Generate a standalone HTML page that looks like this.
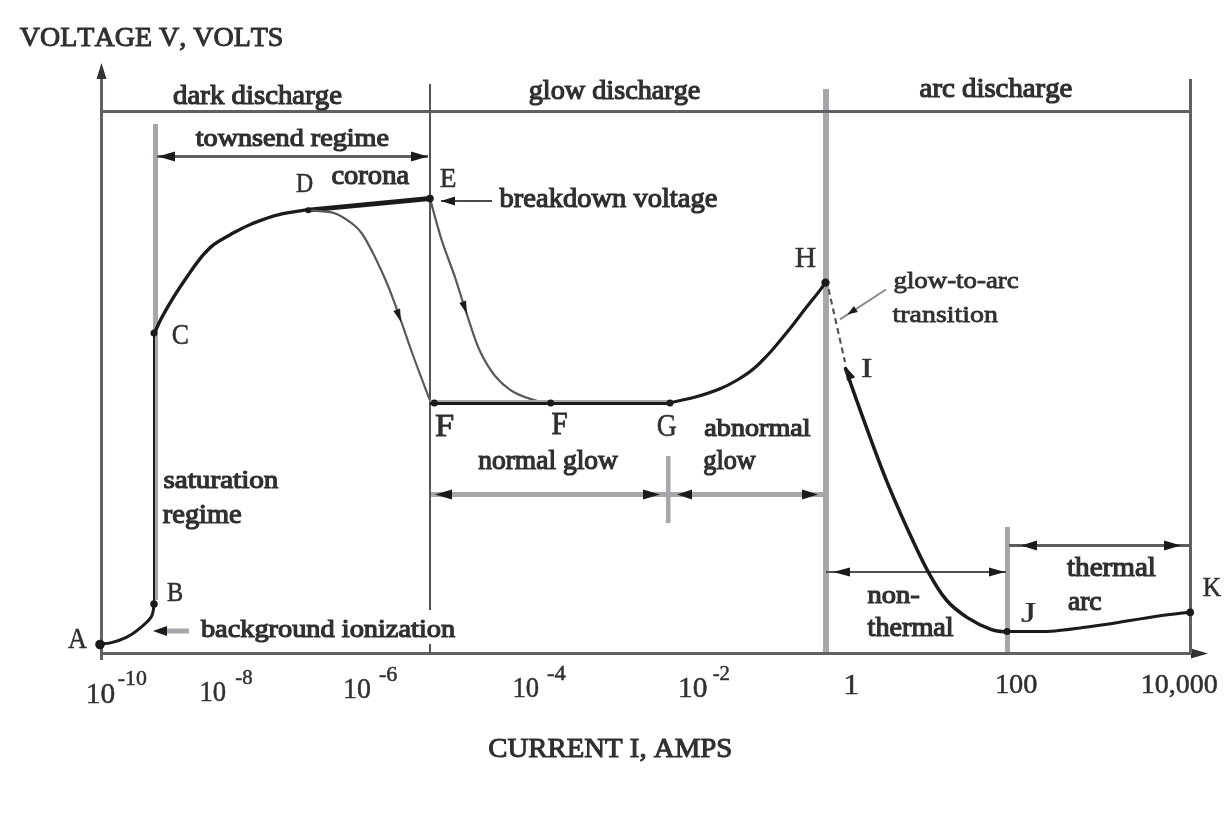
<!DOCTYPE html>
<html><head><meta charset="utf-8"><style>
html,body{margin:0;padding:0;background:#fff;}
svg{display:block;will-change:transform;}
text{font-family:"Liberation Serif",serif;font-kerning:none;font-variant-ligatures:none;}
</style></head><body>
<svg width="1226" height="815" viewBox="0 0 1226 815">
<rect width="1226" height="815" fill="#fff"/>
<rect x="153" y="124" width="5" height="476" fill="#a5a7aa"/>
<rect x="823" y="89" width="6" height="565" fill="#a5a7aa"/>
<rect x="1005" y="527" width="5" height="127" fill="#a5a7aa"/>
<rect x="666" y="456" width="4.5" height="67" fill="#a5a7aa"/>
<rect x="430" y="492" width="396" height="5" fill="#a5a7aa"/>
<rect x="167" y="628.5" width="22" height="5" fill="#a5a7aa"/>
<rect x="100" y="70" width="3" height="590" fill="#5f6165"/>
<rect x="100" y="652" width="1096" height="3" fill="#5f6165"/>
<polygon points="101.5,63.0 106.5,79.0 96.5,79.0" fill="#333"/>
<polygon points="1208.0,653.5 1191.0,658.5 1191.0,648.5" fill="#333"/>
<rect x="100" y="110" width="1092" height="3" fill="#5f6165"/>
<rect x="429" y="84" width="2" height="526" fill="#545558"/>
<rect x="429" y="644" width="2" height="10" fill="#545558"/>
<rect x="1189" y="79" width="3" height="575" fill="#5f6165"/>
<rect x="157" y="155" width="271" height="3" fill="#5f6165"/>
<polygon points="158.0,156.5 175.0,151.5 175.0,161.5" fill="#1c1a1b"/>
<polygon points="428.0,156.5 411.0,161.5 411.0,151.5" fill="#1c1a1b"/>
<rect x="441" y="200" width="51" height="2" fill="#4a4b4e"/>
<polygon points="441.0,201.0 455.0,196.5 455.0,205.5" fill="#1c1a1b"/>
<polygon points="435.0,494.5 452.0,489.5 452.0,499.5" fill="#1c1a1b"/>
<polygon points="660.0,494.5 643.0,499.5 643.0,489.5" fill="#1c1a1b"/>
<polygon points="677.0,494.5 692.0,489.5 692.0,499.5" fill="#1c1a1b"/>
<polygon points="818.0,494.5 802.0,499.5 802.0,489.5" fill="#1c1a1b"/>
<rect x="826" y="571" width="180" height="2" fill="#4e5053"/>
<polygon points="833.0,572.0 850.0,567.5 850.0,576.5" fill="#1c1a1b"/>
<polygon points="1005.0,572.0 989.0,576.5 989.0,567.5" fill="#1c1a1b"/>
<rect x="1009" y="544" width="181" height="3" fill="#5a5c5f"/>
<polygon points="1021.0,545.5 1037.0,540.5 1037.0,550.5" fill="#1c1a1b"/>
<polygon points="1181.0,545.5 1164.0,550.5 1164.0,540.5" fill="#1c1a1b"/>
<polygon points="153.0,631.0 167.0,626.0 167.0,636.0" fill="#1c1a1b"/>
<line x1="886" y1="289.5" x2="840" y2="319.3" stroke="#8a8a8a" stroke-width="2" />
<polygon points="847.5,314.5 853.9,306.1 857.8,311.9" fill="#1c1a1b"/>
<line x1="828.5" y1="289" x2="845" y2="362" stroke="#555" stroke-width="2.2" stroke-dasharray="6,4"/>
<path d="M100.5,644.0 C102.3,643.8 107.2,643.7 111.5,642.6 C115.8,641.5 121.6,639.7 126.3,637.4 C131.0,635.1 135.3,632.0 139.5,628.6 C143.7,625.2 148.9,620.9 151.3,616.8 C153.7,612.7 153.6,606.1 154.0,604.0" fill="none" stroke="#1c1a1b" stroke-width="3" stroke-linecap="round" stroke-linejoin="round"/>
<rect x="153" y="333" width="2" height="271" fill="#1c1a1b"/>
<path d="M154.4,333.0 C155.7,330.3 158.9,322.9 162.2,316.8 C165.5,310.7 169.9,303.1 174.2,296.2 C178.5,289.3 183.3,282.1 187.9,275.5 C192.5,268.9 197.4,261.8 201.7,256.7 C206.0,251.5 208.8,248.3 213.7,244.6 C218.6,240.9 224.6,237.7 230.9,234.3 C237.2,230.9 243.5,227.3 251.5,224.0 C259.5,220.7 269.5,217.0 278.9,214.6 C288.3,212.2 303.2,210.4 308.1,209.6" fill="none" stroke="#1c1a1b" stroke-width="3.4" stroke-linecap="round" stroke-linejoin="round"/>
<polygon points="308,207.8 430,195.9 430,200.9 308,212.6" fill="#1c1a1b"/>
<path d="M307.7,210.3 C312.0,210.7 326.2,210.8 333.5,212.9 C340.8,215.1 346.9,219.8 351.6,223.2 C356.3,226.6 358.0,227.9 361.9,233.5 C365.8,239.1 370.5,248.1 374.8,256.7 C379.1,265.3 383.6,275.1 387.7,285.0 C391.8,294.9 395.4,305.2 399.3,316.0 C403.2,326.8 406.4,337.0 410.9,349.5 C415.4,362.0 423.1,382.4 426.3,390.8 C429.5,399.2 429.4,398.5 430.0,400.0" fill="none" stroke="#5a5a5a" stroke-width="2.2" stroke-linecap="round" stroke-linejoin="round"/>
<polygon points="401.0,322.0 393.4,310.9 400.1,308.6" fill="#1c1a1b"/>
<path d="M430.0,198.5 C431.9,205.2 437.1,225.6 441.2,238.6 C445.3,251.6 450.7,264.6 454.7,276.3 C458.7,288.0 460.9,296.6 465.0,308.7 C469.1,320.8 474.0,337.8 479.0,349.0 C484.0,360.2 489.3,368.8 495.1,376.0 C500.9,383.2 506.8,388.1 514.0,392.3 C521.2,396.5 532.3,399.6 538.3,401.2 C544.3,402.8 548.0,401.9 550.0,402.0" fill="none" stroke="#5a5a5a" stroke-width="2.2" stroke-linecap="round" stroke-linejoin="round"/>
<polygon points="467.0,314.0 459.4,302.9 466.0,300.6" fill="#1c1a1b"/>
<rect x="430" y="400" width="240" height="2" fill="#a5a7aa"/>
<rect x="430" y="402" width="240" height="3" fill="#1c1a1b"/>
<path d="M669.4,402.8 C673.6,401.9 685.9,399.7 694.4,397.3 C702.9,394.9 713.0,391.6 720.1,388.7 C727.2,385.8 731.6,383.4 737.3,380.0 C743.0,376.6 748.8,372.9 754.5,368.0 C760.2,363.1 765.9,357.0 771.6,350.7 C777.3,344.4 783.1,337.2 788.8,330.1 C794.5,323.0 800.9,314.4 806.0,307.8 C811.1,301.2 816.4,294.9 819.7,290.6 C823.0,286.3 824.7,283.4 825.7,282.0" fill="none" stroke="#1c1a1b" stroke-width="3.2" stroke-linecap="round" stroke-linejoin="round"/>
<path d="M845.5,368.6 C848.6,377.5 857.8,403.8 864.4,421.8 C871.0,439.8 878.1,459.6 885.0,476.8 C891.9,494.0 898.5,509.1 905.6,524.9 C912.8,540.6 921.0,558.7 927.9,571.3 C934.8,583.9 940.2,592.8 946.8,600.5 C953.4,608.2 959.9,612.7 967.4,617.6 C974.9,622.5 984.9,627.3 991.5,629.7 C998.1,632.1 1004.4,631.6 1007.0,632.0" fill="none" stroke="#1c1a1b" stroke-width="3.5" stroke-linecap="round" stroke-linejoin="round"/>
<path d="M1007.0,631.5 C1010.8,631.5 1022.0,631.7 1030.0,631.6 C1038.0,631.5 1046.2,631.7 1055.0,631.0 C1063.8,630.3 1073.7,628.8 1083.0,627.6 C1092.3,626.4 1098.3,625.7 1110.6,623.8 C1122.9,621.9 1143.5,618.1 1156.7,616.2 C1169.9,614.3 1184.5,612.9 1190.0,612.2" fill="none" stroke="#1c1a1b" stroke-width="3" stroke-linecap="round" stroke-linejoin="round"/>
<polygon points="846.0,367.0 855.2,377.3 846.8,380.7" fill="#1c1a1b"/>
<circle cx="100" cy="644.5" r="4.8" fill="#1c1a1b"/>
<circle cx="154" cy="604" r="3.8" fill="#1c1a1b"/>
<circle cx="154" cy="333" r="3.5" fill="#1c1a1b"/>
<circle cx="308.2" cy="210.3" r="3" fill="#1c1a1b"/>
<circle cx="430" cy="198.5" r="3.8" fill="#1c1a1b"/>
<circle cx="434.3" cy="403" r="3.5" fill="#1c1a1b"/>
<circle cx="550.7" cy="403" r="3.5" fill="#1c1a1b"/>
<circle cx="670" cy="403" r="3.5" fill="#1c1a1b"/>
<circle cx="825.5" cy="282.6" r="4.2" fill="#1c1a1b"/>
<circle cx="1007" cy="631.5" r="3.5" fill="#1c1a1b"/>
<circle cx="1190.2" cy="612.4" r="3.8" fill="#1c1a1b"/>
<text transform="translate(19.80 46.40) scale(1.0000 1)" font-weight="normal" font-size="28" fill="#303030" stroke="#303030" stroke-width="1.0">VOLTAGE V, VOLTS</text>
<text transform="translate(173.10 104.00) scale(1.0299 1)" font-weight="normal" font-size="28" fill="#303030" stroke="#303030" stroke-width="1.2">dark discharge</text>
<text transform="translate(528.69 98.70) scale(1.0089 1)" font-weight="normal" font-size="28" fill="#303030" stroke="#303030" stroke-width="1.2">glow discharge</text>
<text transform="translate(919.60 97.00) scale(1.0297 1)" font-weight="normal" font-size="28" fill="#303030" stroke="#303030" stroke-width="1.2">arc discharge</text>
<text transform="translate(195.70 146.00) scale(1.0848 1)" font-weight="normal" font-size="26" fill="#303030" stroke="#303030" stroke-width="1.2">townsend regime</text>
<text transform="translate(331.40 184.00) scale(1.0581 1)" font-weight="normal" font-size="27" fill="#303030" stroke="#303030" stroke-width="1.2">corona</text>
<text transform="translate(296.00 191.80) scale(0.8500 1)" font-weight="normal" font-size="28" fill="#303030" stroke="#303030" stroke-width="0.5">D</text>
<text transform="translate(439.70 186.60) scale(0.9812 1)" font-weight="normal" font-size="28" fill="#303030" stroke="#303030" stroke-width="0.5">E</text>
<text transform="translate(499.60 206.50) scale(1.0187 1)" font-weight="normal" font-size="28" fill="#303030" stroke="#303030" stroke-width="1.2">breakdown voltage</text>
<text transform="translate(794.70 267.40) scale(1.0238 1)" font-weight="normal" font-size="29" fill="#303030" stroke="#303030" stroke-width="0.5">H</text>
<text transform="translate(893.50 288.00) scale(1.1187 1)" font-weight="normal" font-size="24" fill="#303030" stroke="#303030" stroke-width="0.8">glow-to-arc</text>
<text transform="translate(892.60 322.20) scale(1.1615 1)" font-weight="normal" font-size="24" fill="#303030" stroke="#303030" stroke-width="0.8">transition</text>
<text transform="translate(171.80 343.80) scale(0.8895 1)" font-weight="normal" font-size="29" fill="#303030" stroke="#303030" stroke-width="0.5">C</text>
<text transform="translate(861.00 377.00) scale(1.2222 1)" font-weight="normal" font-size="28" fill="#303030" stroke="#303030" stroke-width="0.5">I</text>
<text transform="translate(435.00 435.70) scale(1.0778 1)" font-weight="normal" font-size="32" fill="#303030" stroke="#303030" stroke-width="0.9">F</text>
<text transform="translate(551.60 433.80) scale(0.9111 1)" font-weight="normal" font-size="32" fill="#303030" stroke="#303030" stroke-width="0.9">F</text>
<text transform="translate(656.73 436.00) scale(0.8682 1)" font-weight="normal" font-size="32" fill="#303030" stroke="#303030" stroke-width="0.5">G</text>
<text transform="translate(704.30 436.00) scale(1.0837 1)" font-weight="normal" font-size="26" fill="#303030" stroke="#303030" stroke-width="1.2">abnormal</text>
<text transform="translate(703.33 468.50) scale(0.9698 1)" font-weight="normal" font-size="27" fill="#303030" stroke="#303030" stroke-width="1.2">glow</text>
<text transform="translate(478.20 468.50) scale(1.0181 1)" font-weight="normal" font-size="27" fill="#303030" stroke="#303030" stroke-width="1.2">normal glow</text>
<text transform="translate(163.50 488.30) scale(1.1214 1)" font-weight="normal" font-size="26" fill="#303030" stroke="#303030" stroke-width="1.2">saturation</text>
<text transform="translate(162.80 522.90) scale(1.0533 1)" font-weight="normal" font-size="27" fill="#303030" stroke="#303030" stroke-width="1.2">regime</text>
<text transform="translate(166.90 601.20) scale(0.9000 1)" font-weight="normal" font-size="27" fill="#303030" stroke="#303030" stroke-width="0.5">B</text>
<text transform="translate(68.00 648.00) scale(0.8727 1)" font-weight="normal" font-size="30" fill="#303030" stroke="#303030" stroke-width="0.5">A</text>
<text transform="translate(200.90 637.20) scale(1.0906 1)" font-weight="normal" font-size="26" fill="#303030" stroke="#303030" stroke-width="1.2">background ionization</text>
<text transform="translate(867.60 603.00) scale(1.0936 1)" font-weight="normal" font-size="26" fill="#303030" stroke="#303030" stroke-width="1.2">non-</text>
<text transform="translate(867.60 635.50) scale(1.0439 1)" font-weight="normal" font-size="27" fill="#303030" stroke="#303030" stroke-width="1.2">thermal</text>
<text transform="translate(1067.00 575.80) scale(1.0793 1)" font-weight="normal" font-size="27" fill="#303030" stroke="#303030" stroke-width="1.2">thermal</text>
<text transform="translate(1068.00 609.50) scale(1.0182 1)" font-weight="normal" font-size="27" fill="#303030" stroke="#303030" stroke-width="1.2">arc</text>
<text transform="translate(1021.00 622.00) scale(1.3636 1)" font-weight="normal" font-size="29" fill="#303030" stroke="#303030" stroke-width="0.2">J</text>
<text transform="translate(1202.70 596.00) scale(0.9150 1)" font-weight="normal" font-size="28" fill="#303030" stroke="#303030" stroke-width="0.5">K</text>
<text transform="translate(488.30 757.00) scale(1.0667 1)" font-weight="normal" font-size="27" fill="#303030" stroke="#303030" stroke-width="1.0">CURRENT I, AMPS</text>
<text transform="translate(85.77 703.30) scale(1.0148 1)" font-weight="normal" font-size="29" fill="#303030" stroke="#303030" stroke-width="0.5">10</text>
<text transform="translate(117.80 685.00) scale(0.9931 1)" font-weight="normal" font-size="22" fill="#303030" stroke="#303030" stroke-width="0.5">-10</text>
<text transform="translate(199.56 700.70) scale(0.9185 1)" font-weight="normal" font-size="29" fill="#303030" stroke="#303030" stroke-width="0.5">10</text>
<text transform="translate(235.30 683.70) scale(0.9444 1)" font-weight="normal" font-size="22" fill="#303030" stroke="#303030" stroke-width="0.5">-8</text>
<text transform="translate(343.07 698.00) scale(0.9630 1)" font-weight="normal" font-size="29" fill="#303030" stroke="#303030" stroke-width="0.5">10</text>
<text transform="translate(378.90 681.00) scale(1.0056 1)" font-weight="normal" font-size="22" fill="#303030" stroke="#303030" stroke-width="0.5">-6</text>
<text transform="translate(512.56 696.80) scale(0.9185 1)" font-weight="normal" font-size="29" fill="#303030" stroke="#303030" stroke-width="0.5">10</text>
<text transform="translate(547.00 679.80) scale(1.0316 1)" font-weight="normal" font-size="22" fill="#303030" stroke="#303030" stroke-width="0.5">-4</text>
<text transform="translate(677.96 696.80) scale(1.0185 1)" font-weight="normal" font-size="29" fill="#303030" stroke="#303030" stroke-width="0.5">10</text>
<text transform="translate(712.70 680.00) scale(0.9444 1)" font-weight="normal" font-size="22" fill="#303030" stroke="#303030" stroke-width="0.5">-2</text>
<text transform="translate(843.32 693.60) scale(1.0909 1)" font-weight="normal" font-size="29" fill="#303030" stroke="#303030" stroke-width="0.5">1</text>
<text transform="translate(994.89 693.00) scale(1.0526 1)" font-weight="normal" font-size="27" fill="#303030" stroke="#303030" stroke-width="0.5">100</text>
<text transform="translate(1140.73 693.00) scale(1.0361 1)" font-weight="normal" font-size="27" fill="#303030" stroke="#303030" stroke-width="0.5">10,000</text>
</svg>
</body></html>
